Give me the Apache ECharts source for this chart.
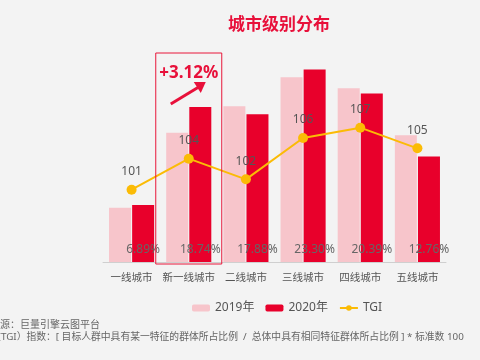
<!DOCTYPE html>
<html>
<head>
<meta charset="utf-8">
<script src="https://cdn.jsdelivr.net/npm/echarts@6/dist/echarts.min.js"></script>
<style>
html,body{margin:0;padding:0;background:#f3f3f3;}
#c{width:480px;height:360px;}
</style>
</head>
<body>
<div id="c"></div>
<script>
const categories = ['一线城市','新一线城市','二线城市','三线城市','四线城市','五线城市'];
const share2019 = [6.55, 15.62, 18.84, 22.34, 21.01, 15.34];
const share2020 = [6.89, 18.74, 17.88, 23.30, 20.39, 12.76];
const tgi = [101, 104, 102, 106, 107, 105];
const highlightIndex = 1;
const highlightText = '+3.12%';
const titleText = '城市级别分布';
const sourceText = '源：巨量引擎云图平台';
const noteText = '(TGI）指数：[ 目标人群中具有某一特征的群体所占比例  /  总体中具有相同特征群体所占比例 ] * 标准数 100';

const FONT = '"Noto Sans", "Noto Sans CJK SC", sans-serif';
const RED = '#e8002b';
const PINK = '#f7c5cb';
const GOLD = '#fbbb05';

const chart = echarts.init(document.getElementById('c'));
chart.setOption({
  backgroundColor: '#f3f3f3',
  animation: false,
  textStyle: {fontFamily: FONT},
  title: {
    text: titleText, left: 223, top: 12,
    textStyle: {color: '#e8103a', fontSize: 17, fontWeight: 'bold', fontFamily: FONT}
  },
  legend: {
    left: 187, top: 297, itemWidth: 18, itemHeight: 7, itemGap: 11,
    textStyle: {color: '#555', fontSize: 12, fontFamily: FONT},
    data: ['2019年', '2020年', 'TGI']
  },
  grid: {left: 103, right: 34, top: 14, bottom: 98},
  xAxis: {
    type: 'category', data: categories,
    axisLine: {lineStyle: {color: '#cfcfcf'}},
    axisTick: {show: false},
    axisLabel: {color: '#555', fontSize: 10.5, margin: 11, interval: 0, fontFamily: FONT}
  },
  yAxis: [
    {type: 'value', min: 0, max: 30, show: false},
    {type: 'value', min: 94, max: 118, show: false}
  ],
  series: [
    {
      name: '2019年', type: 'bar', data: share2019, barWidth: 22, barGap: '5%',
      itemStyle: {color: PINK}
    },
    {
      name: '2020年', type: 'bar', data: share2020, barWidth: 22,
      itemStyle: {color: RED},
      label: {
        show: true, position: 'insideBottom', distance: 6,
        color: '#666', fontSize: 12, fontFamily: FONT,
        formatter: p => p.value.toFixed(2) + '%'
      }
    },
    {
      name: 'TGI', type: 'line', yAxisIndex: 1, data: tgi,
      symbol: 'circle', symbolSize: 10,
      lineStyle: {color: GOLD, width: 2},
      itemStyle: {color: GOLD},
      label: {show: true, position: 'top', distance: 7, color: '#555', fontSize: 12, fontFamily: FONT},
      z: 5
    }
  ]
});

const c = chart.convertToPixel({xAxisIndex: 0, yAxisIndex: 0}, [highlightIndex, 0]);
const cx = c[0], base = c[1];
chart.setOption({
  graphic: [
    {type: 'rect', shape: {x: cx - 33, y: 53, width: 66, height: base - 53 + 2},
     style: {fill: 'none', stroke: '#e8173a', lineWidth: 1}, z: 10},
    {type: 'text', style: {text: highlightText, x: cx, y: 73, align: 'center', verticalAlign: 'middle',
      fill: '#e8103a', font: 'bold 17px ' + FONT}, z: 10},
    {type: 'line', shape: {x1: cx - 18, y1: 104, x2: cx + 10, y2: 87},
     style: {stroke: '#e8103a', lineWidth: 3}, z: 10},
    {type: 'polygon', shape: {points: [[cx + 17, 82], [cx + 5, 82], [cx + 12, 93]]},
     style: {fill: '#e8103a'}, z: 10},
    {type: 'text', style: {text: sourceText, x: 0, y: 325, verticalAlign: 'middle',
      fill: '#666', font: '10px ' + FONT}},
    {type: 'text', style: {text: noteText, x: -2, y: 337, verticalAlign: 'middle',
      fill: '#666', font: '9.8px ' + FONT}}
  ]
});
</script>
</body>
</html>
